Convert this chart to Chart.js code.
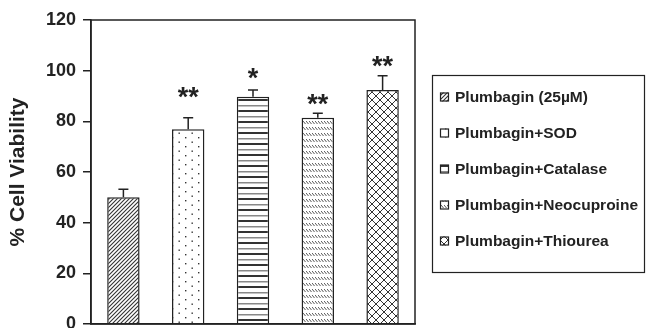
<!DOCTYPE html>
<html>
<head>
<meta charset="utf-8">
<script src="https://cdn.jsdelivr.net/npm/chart.js@4/dist/chart.umd.min.js"></script>
<style>
  html, body { margin: 0; padding: 0; background: #fff; }
  #wrap { width: 647px; height: 328px; position: relative; }
</style>
</head>
<body>
<div id="wrap"><canvas id="chart"></canvas></div>
<script>
const categories = ['Plumbagin (25µM)', 'Plumbagin+SOD', 'Plumbagin+Catalase', 'Plumbagin+Neocuproine', 'Plumbagin+Thiourea'];
const viability = [50, 76.9, 89.7, 81.4, 92.4];
const errors = [3.2, 4.5, 2.7, 1.8, 5.6];
const stars = ['', '**', '*', '**', '**'];
const starLevels = [null, 91, 98.3, 88.4, 103.2];
const yTicks = [0, 20, 40, 60, 80, 100, 120];

const FONT = '"Liberation Sans", Arial, sans-serif';
const INK = '#222';

// little tiles for the hatch fills
function tile(w, h, paint) {
  const c = document.createElement('canvas');
  c.width = w; c.height = h;
  const g = c.getContext('2d');
  g.fillStyle = '#fff';
  g.fillRect(0, 0, w, h);
  paint(g);
  return g.createPattern(c, 'repeat');
}

const patterns = [
  tile(4, 4, g => {            // "/" hatch
    g.strokeStyle = '#333'; g.lineWidth = 1.1;
    g.beginPath();
    g.moveTo(-1, 5); g.lineTo(5, -1);
    g.moveTo(-1, 1); g.lineTo(1, -1);
    g.moveTo(3, 5); g.lineTo(5, 3);
    g.stroke();
  }),
  tile(13, 9, g => {           // dots
    g.fillStyle = '#333';
    g.fillRect(3, 2, 1.4, 1.4);
    g.fillRect(9.5, 6.5, 1.4, 1.4);
  }),
  tile(4, 11, g => {           // horizontal lines, alternating
    g.fillStyle = '#333';
    g.fillRect(0, 0, 4, 2);
    g.fillStyle = '#888';
    g.fillRect(0, 6, 4, 1.5);
  }),
  tile(3, 6, g => {            // "\" short dashes
    g.strokeStyle = '#444'; g.lineWidth = 0.9;
    g.beginPath();
    g.moveTo(0, 1); g.lineTo(2.5, 4);
    g.stroke();
  }),
  tile(8, 8, g => {            // crosshatch
    g.strokeStyle = '#333'; g.lineWidth = 1;
    g.beginPath();
    g.moveTo(0, 0); g.lineTo(8, 8);
    g.moveTo(8, 0); g.lineTo(0, 8);
    g.stroke();
  })
];

const extras = {
  id: 'extras',
  afterDatasetsDraw(chart) {
    const ctx = chart.ctx;
    const y = chart.scales.y;
    const meta = chart.getDatasetMeta(0);
    const area = chart.chartArea;
    ctx.save();
    // frame
    ctx.strokeStyle = INK;
    ctx.lineWidth = 1.5;
    ctx.strokeRect(area.left, area.top, area.right - area.left, area.bottom - area.top);
    // error bars
    ctx.lineWidth = 1.5;
    meta.data.forEach((bar, i) => {
      const top = y.getPixelForValue(viability[i]);
      const err = y.getPixelForValue(viability[i] + errors[i]);
      ctx.beginPath();
      ctx.moveTo(bar.x, top);
      ctx.lineTo(bar.x, err);
      ctx.moveTo(bar.x - 5, err);
      ctx.lineTo(bar.x + 5, err);
      ctx.stroke();
      if (stars[i]) {
        ctx.fillStyle = INK;
        ctx.font = 'bold 27px ' + FONT;
        ctx.textAlign = 'center';
        ctx.textBaseline = 'middle';
        ctx.fillText(stars[i], bar.x, y.getPixelForValue(starLevels[i]) + 5);
      }
    });
    // legend box
    const lx = 432, ly = 75, lw = 212, lh = 197;
    ctx.lineWidth = 1.2;
    ctx.strokeRect(lx + 0.5, ly + 0.5, lw, lh);
    ctx.font = 'bold 15.5px ' + FONT;
    ctx.textAlign = 'left';
    ctx.textBaseline = 'middle';
    categories.forEach((name, i) => {
      const cy = ly + 22 + i * 36;
      ctx.fillStyle = patterns[i];
      ctx.fillRect(440, cy - 4.5, 9, 9);
      ctx.lineWidth = 1.2;
      ctx.strokeRect(440.5, cy - 4, 8, 8);
      ctx.fillStyle = INK;
      ctx.fillText(name, 455, cy + 1);
    });
    ctx.restore();
  }
};

new Chart(document.getElementById('chart'), {
  type: 'bar',
  data: {
    labels: categories,
    datasets: [{
      data: viability,
      backgroundColor: patterns,
      borderColor: INK,
      borderWidth: 1.5,
      barPercentage: 0.5,
      categoryPercentage: 1
    }]
  },
  options: {
    responsive: true,
    maintainAspectRatio: false,
    animation: false,
    events: [],
    layout: { padding: { left: 0, right: 232, top: 20, bottom: 4 } },
    plugins: {
      legend: { display: false },
      tooltip: { enabled: false }
    },
    scales: {
      x: {
        afterFit: s => { s.height = 0; },
        ticks: { display: false },
        grid: { display: false },
        border: { display: true, color: INK, width: 1.5 }
      },
      y: {
        min: 0,
        max: 120,
        afterBuildTicks: s => { s.ticks = yTicks.map(v => ({ value: v })); },
        afterFit: s => { s.width = 91; s.paddingTop = 0; s.paddingBottom = 0; },
        ticks: {
          color: INK,
          padding: 7,
          font: { family: FONT, size: 18, weight: 'bold' }
        },
        grid: { drawOnChartArea: false, drawTicks: true, tickLength: 8, color: INK, lineWidth: 1.5 },
        border: { display: true, color: INK, width: 1.5 },
        title: {
          display: true,
          text: '% Cell Viability',
          color: INK,
          padding: { top: 6, bottom: 0 },
          font: { family: FONT, size: 21, weight: 'bold' }
        }
      }
    }
  },
  plugins: [extras]
});
</script>
</body>
</html>
